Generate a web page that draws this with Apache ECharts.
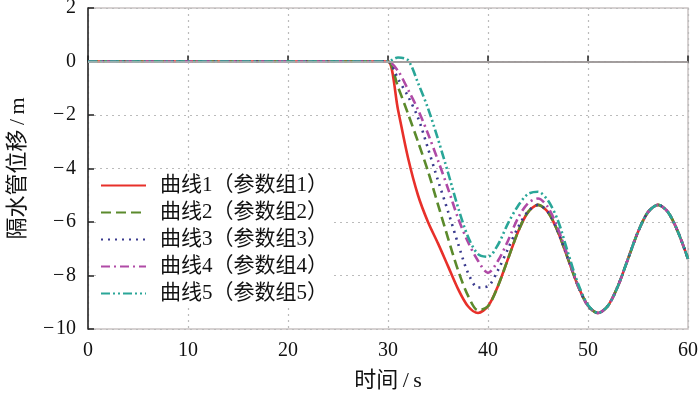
<!DOCTYPE html>
<html>
<head>
<meta charset="utf-8">
<script src="https://cdn.jsdelivr.net/npm/echarts@6/dist/echarts.min.js"></script>
<style>
  html, body { margin: 0; padding: 0; background: #fff; }
  #chart { width: 700px; height: 396px; }
</style>
</head>
<body>
<div id="chart"></div>
<script>
// time points (s)
var time = [0, 29, 30, 31, 32, 33, 34, 35, 36, 37, 38, 39, 40, 41, 42, 43, 44, 45, 46, 47, 48, 49, 50, 51, 52, 53, 54, 55, 56, 57, 58, 59, 60];

// displacement (m)
var curve1 = [0, 0, 0, -1.8, -3.6, -5.0, -6.0, -6.8, -7.65, -8.5, -9.15, -9.4, -9.15, -8.39, -7.38, -6.37, -5.63, -5.36, -5.63, -6.37, -7.38, -8.39, -9.13, -9.4, -9.13, -8.39, -7.38, -6.37, -5.63, -5.36, -5.63, -6.37, -7.38];
var curve2 = [0, 0, 0, -0.95, -1.95, -3.0, -4.1, -5.35, -6.6, -7.8, -8.75, -9.3, -9.15, -8.39, -7.38, -6.37, -5.63, -5.36, -5.63, -6.37, -7.38, -8.39, -9.13, -9.4, -9.13, -8.39, -7.38, -6.37, -5.63, -5.36, -5.63, -6.37, -7.38];
var curve3 = [0, 0, 0, -0.65, -1.3, -2.1, -3.25, -4.45, -5.6, -6.8, -7.9, -8.45, -8.4, -7.8, -7.0, -6.2, -5.6, -5.36, -5.63, -6.37, -7.38, -8.39, -9.13, -9.4, -9.13, -8.39, -7.38, -6.37, -5.63, -5.36, -5.63, -6.37, -7.38];
var curve4 = [0, 0, 0, -0.35, -1.05, -1.8, -2.7, -3.7, -4.75, -5.85, -6.75, -7.45, -7.9, -7.45, -6.7, -5.85, -5.3, -5.12, -5.45, -6.25, -7.3, -8.39, -9.13, -9.4, -9.13, -8.39, -7.38, -6.37, -5.63, -5.36, -5.63, -6.37, -7.38];
var curve5 = [0, 0, 0, 0.15, 0.05, -0.8, -1.75, -2.9, -4.15, -5.45, -6.55, -7.2, -7.3, -6.85, -6.05, -5.4, -4.95, -4.87, -5.2, -5.95, -7.15, -8.3, -9.1, -9.4, -9.13, -8.39, -7.38, -6.37, -5.63, -5.36, -5.63, -6.37, -7.38];

var names = ['曲线1（参数组1）', '曲线2（参数组2）', '曲线3（参数组3）', '曲线4（参数组4）', '曲线5（参数组5）'];
var colors = ['#e8302a', '#5b8a2c', '#3a3a8e', '#b04aa6', '#2aa698'];
var dashes = ['solid', [10, 5], [2, 5], [9, 4, 2, 4], [9, 3, 2, 3, 2, 3]];

var serif = '"Liberation Serif", "Noto Sans CJK SC", serif';

var pairs = function (ys) {
    return time.map(function (t, i) { return [t, ys[i]]; });
};

// long minus like the original
var minus = function (v) { return String(v).replace('-', '\u2212\u200a'); };

let chart = echarts.init(document.getElementById('chart'));

let series = [curve1, curve2, curve3, curve4, curve5].map(function (ys, i) {
    return {
        name: names[i],
        type: 'line',
        data: pairs(ys),
        smooth: 0.3,
        symbol: 'none',
        z: 3,
        lineStyle: { color: colors[i], width: 2.6, type: dashes[i] },
        itemStyle: { color: colors[i] }
    };
});

// gray zero line under the curves
series.unshift({
    type: 'line',
    data: [],
    z: 1,
    silent: true,
    markLine: {
        silent: true,
        symbol: 'none',
        label: { show: false },
        lineStyle: { color: '#bdb6b6', type: 'solid', width: 1.5 },
        data: [{ yAxis: 0 }]
    }
});

let option = {
    animation: false,
    backgroundColor: '#fff',
    grid: {
        left: 88, right: 12, top: 8, bottom: 67,
        outerBoundsMode: 'none',
        containLabel: false,
        show: true,
        borderColor: '#c9c2c2',
        borderWidth: 1.5
    },
    legend: {
        data: names,
        orient: 'vertical',
        left: 96,
        top: 173,
        itemWidth: 45,
        itemHeight: 14,
        itemGap: 6,
        padding: [2, 6, 2, 4],
        backgroundColor: '#fff',
        itemStyle: { opacity: 0 },
        textStyle: { fontFamily: serif, fontSize: 21, color: '#111', padding: [0, 0, 0, 9] }
    },
    xAxis: {
        type: 'value',
        min: 0, max: 60, interval: 10,
        name: '时间\u2009/\u2009s',
        nameLocation: 'middle',
        nameGap: 41,
        nameTextStyle: { fontFamily: serif, fontSize: 22, color: '#111' },
        axisLine: { lineStyle: { color: '#222', width: 1.5 } },
        axisTick: { inside: true, length: 6, lineStyle: { color: '#222', width: 1.5 } },
        axisLabel: { fontFamily: serif, fontSize: 20, color: '#111', margin: 12 },
        splitLine: { show: true, lineStyle: { color: '#bbb', type: [2, 4], width: 1.2 } }
    },
    yAxis: {
        type: 'value',
        min: -10, max: 2, interval: 2,
        name: '隔水管位移\u2009/\u2009m',
        nameLocation: 'middle',
        nameGap: 59,
        nameTextStyle: { fontFamily: serif, fontSize: 22, color: '#111' },
        axisLine: { show: true, lineStyle: { color: '#222', width: 1.5 } },
        axisTick: { show: true, inside: true, length: 6, lineStyle: { color: '#222', width: 1.5 } },
        axisLabel: { fontFamily: serif, fontSize: 20, color: '#111', margin: 12, formatter: minus },
        splitLine: { show: true, lineStyle: { color: '#bbb', type: [2, 4], width: 1.2 } }
    },
    series: series
};

chart.setOption(option);
</script>
</body>
</html>
